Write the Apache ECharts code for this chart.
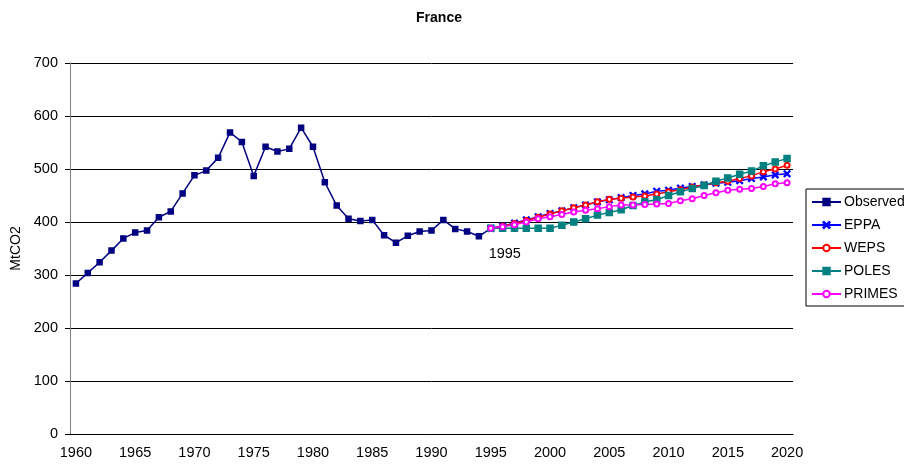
<!DOCTYPE html>
<html>
<head>
<meta charset="utf-8">
<script src="https://cdn.jsdelivr.net/npm/echarts@6/dist/echarts.min.js"></script>
<style>
  html, body { margin: 0; padding: 0; background: #fff; }
  #chart { width: 904px; height: 470px; }
</style>
</head>
<body>
<div id="chart"></div>
<script>
var years = ['1960','1961','1962','1963','1964','1965','1966','1967','1968','1969',
	'1970','1971','1972','1973','1974','1975','1976','1977','1978','1979',
	'1980','1981','1982','1983','1984','1985','1986','1987','1988','1989',
	'1990','1991','1992','1993','1994','1995','1996','1997','1998','1999',
	'2000','2001','2002','2003','2004','2005','2006','2007','2008','2009',
	'2010','2011','2012','2013','2014','2015','2016','2017','2018','2019','2020'];

// observed 1960-1995
var observed = [284, 304, 324, 346, 369, 380, 384, 409, 420, 454,
	488, 497, 521, 569, 551, 487, 542, 533, 538, 578,
	542, 475, 431, 406, 402, 404, 375, 361, 374, 382,
	384, 404, 387, 382, 373, 388];

// scenarios 1995-2020
var eppa = [388, 392, 398, 404, 410, 416, 421, 427, 432, 438, 442, 446, 450,
	453, 458, 460, 464, 467, 470, 473, 475, 478, 482, 485, 489, 491];
var weps = [388, 392, 397, 403, 409, 415, 421, 427, 432, 438, 443, 445, 447,
	449, 453, 457, 461, 466, 470, 474, 477, 482, 487, 495, 500, 507];
var poles = [388, 388, 388, 388, 388, 388, 394, 400, 406, 413, 418, 423, 431,
	438, 442, 450, 457, 463, 469, 477, 483, 490, 496, 506, 513, 520];
var primes = [388, 391, 395, 400, 406, 410, 414, 419, 422, 425, 429, 432, 432,
	433, 434, 435, 440, 444, 450, 455, 460, 462, 463, 467, 472, 474];

var yTicks = [0, 100, 200, 300, 400, 500, 600, 700];

function pad(arr, start) {
	var out = [];
	for (var i = 0; i < years.length; i++) {
		var j = i - start;
		out.push(j >= 0 && j < arr.length ? arr[j] : null);
	}
	return out;
}

var font = 'Liberation Sans, Arial';

var obsData = pad(observed, 0);
obsData[35] = {
	value: observed[35],
	label: { show: true, formatter: '1995', position: 'bottom', offset: [14, 10],
		color: '#000', fontSize: 14.5, fontFamily: font }
};

var xMark = 'path://M0,1L1,0L5,4L9,0L10,1L6,5L10,9L9,10L5,6L1,10L0,9L4,5Z';

function line(name, data, color, symbol, size) {
	return {
		name: name,
		type: 'line',
		data: data,
		symbol: symbol,
		symbolSize: size,
		showAllSymbol: true,
		connectNulls: false,
		animation: false,
		lineStyle: { color: color, width: 1.5 },
		itemStyle: { color: color, borderColor: color, borderWidth: 1.5 },
		emphasis: { disabled: true }
	};
}

var myChart = echarts.init(document.getElementById('chart'));
var option = {
	backgroundColor: '#fff',
	animation: false,
	title: {
		text: 'France',
		left: 434,
		textAlign: 'center',
		top: 6,
		textStyle: { fontSize: 14, fontWeight: 'bold', fontFamily: font, color: '#000' }
	},
	grid: { left: 70, top: 63, right: 111, bottom: 36, outerBoundsMode: 'none', containLabel: false },
	legend: {
		orient: 'vertical',
		left: 806,
		top: 189,
		padding: [6, 6, 5, 5],
		itemGap: 9,
		itemWidth: 29,
		itemHeight: 8,
		borderColor: '#000',
		borderWidth: 1,
		textStyle: { fontSize: 14, fontFamily: font, color: '#000', padding: [0, 0, 0, -2] },
		data: ['Observed', 'EPPA', 'WEPS', 'POLES', 'PRIMES']
	},
	xAxis: {
		type: 'category',
		data: years,
		boundaryGap: true,
		axisLine: { lineStyle: { color: '#000', width: 1 } },
		axisTick: { interval: 0, length: 4, lineStyle: { color: '#000' } },
		axisLabel: { interval: 4, margin: 11, fontSize: 14.5, fontFamily: font, color: '#000' },
		splitLine: { show: false }
	},
	yAxis: {
		type: 'value',
		min: yTicks[0],
		max: yTicks[yTicks.length - 1],
		interval: 100,
		name: 'MtCO2',
		nameLocation: 'middle',
		nameGap: 47,
		nameTextStyle: { fontSize: 14, fontFamily: font, color: '#000' },
		axisLine: { show: true, lineStyle: { color: '#808080', width: 1 } },
		axisTick: { show: true, length: 5, inside: false, lineStyle: { color: '#000' } },
		axisLabel: { margin: 12, fontSize: 14.5, fontFamily: font, color: '#000' },
		splitLine: { lineStyle: { color: '#000', width: 1 } }
	},
	series: [
		line('Observed', obsData, '#000080', 'rect', 5),
		line('EPPA', pad(eppa, 35), '#0000ff', xMark, 6),
		line('WEPS', pad(weps, 35), '#ff0000', 'emptyCircle', 5),
		line('POLES', pad(poles, 35), '#008080', 'rect', 6),
		line('PRIMES', pad(primes, 35), '#ff00ff', 'emptyCircle', 5)
	]
};
myChart.setOption(option);
</script>
</body>
</html>
